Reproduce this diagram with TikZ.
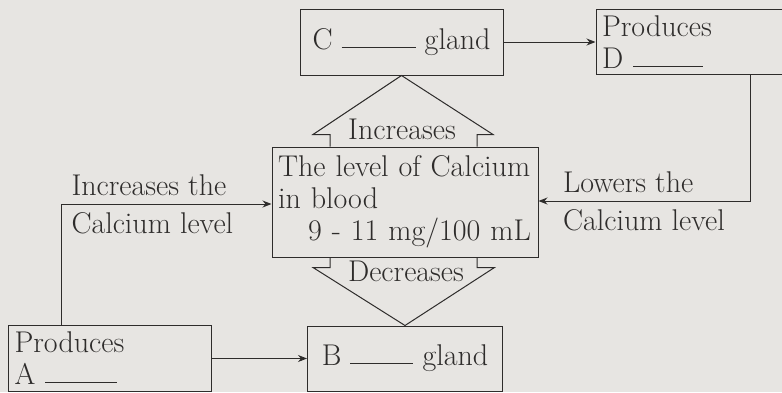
\documentclass[tikz,border=0pt]{standalone}
\usepackage{tikz}
\usetikzlibrary{arrows.meta, positioning}
\definecolor{FigPaper}{HTML}{E7E5E2}
\definecolor{FigInk}{HTML}{2E2C2B}
\newcommand{\blankrule}[1]{\rule[2pt]{#1}{0.9pt}}

\begin{document}
\begin{tikzpicture}[
  x=1pt, y=-1pt,
  gbox/.style={draw=FigInk, line width=1pt, minimum height=65pt, inner xsep=6pt, font=\fontsize{30}{32}\selectfont, text=FigInk},
  tbox/.style={gbox, align=left},
  lbl/.style={font=\fontsize{30}{32}\selectfont, text=FigInk, inner sep=8pt},
  arr/.style={-{Stealth[length=9pt, width=7pt]}, line width=1pt, color=FigInk},
  hollow/.style={line width=1pt, color=FigInk, line join=miter}
]
\fill[FigPaper] (0,0) rectangle (782,392);
\useasboundingbox (0,0) rectangle (782,392);

\node[tbox, text width=254pt, minimum height=110pt] (level) at (405,202) {The level of Calcium\\in blood\\\hspace*{30pt}9 - 11 mg/100 mL};
\node[gbox, minimum width=203pt, minimum height=66pt, above=71pt of level, xshift=-3.5pt] (cgland) {C \blankrule{74pt} gland};
\node[gbox, minimum width=195pt, below=68pt of level] (bgland) {B \blankrule{63pt} gland};
\node[tbox, text width=188pt, right=92pt of cgland] (prodD) {Produces\\D \blankrule{70pt}};
\node[tbox, text width=191pt, minimum height=66pt, left=95pt of bgland] (prodA) {Produces\\A \blankrule{72pt}};

% hollow arrows
\draw[hollow] (level.north) ++(-75,0) -- ++(0,-12) -- ++(-17,0) -- (cgland.south) -- ++(91.5,59) -- ++(-16,0) -- ++(0,12);
\draw[hollow] (level.south) ++(-75,0) -- ++(0,10) -- ++(-17,0) -- (bgland.north) -- ++(89.5,-58) -- ++(-17.5,0) -- ++(0,-10);
\node[lbl, anchor=base] (incr) at (402,139) {Increases};
\node[lbl, anchor=base] (decr) at (406,281) {Decreases};

\coordinate (aturn) at (61,204);
\coordinate (dturn) at (750,201);

\draw[arr] (cgland.east) -- (prodD.west);
\draw[arr] (prodA.east) -- (bgland.west);
\draw[arr] (prodA.north -| aturn) |- node[pos=0.5, lbl, anchor=south west, xshift=2pt] (raiseTop) {Increases the} node[pos=0.5, lbl, anchor=north west, xshift=2pt] (raiseBot) {Calcium level} (level.west |- aturn);
\draw[arr] (prodD.south -| dturn) |- node[pos=0.962, lbl, anchor=south west] (lowerTop) {Lowers the} node[pos=0.962, lbl, anchor=north west] (lowerBot) {Calcium level} (level.east |- dturn);
\end{tikzpicture}
\end{document}
